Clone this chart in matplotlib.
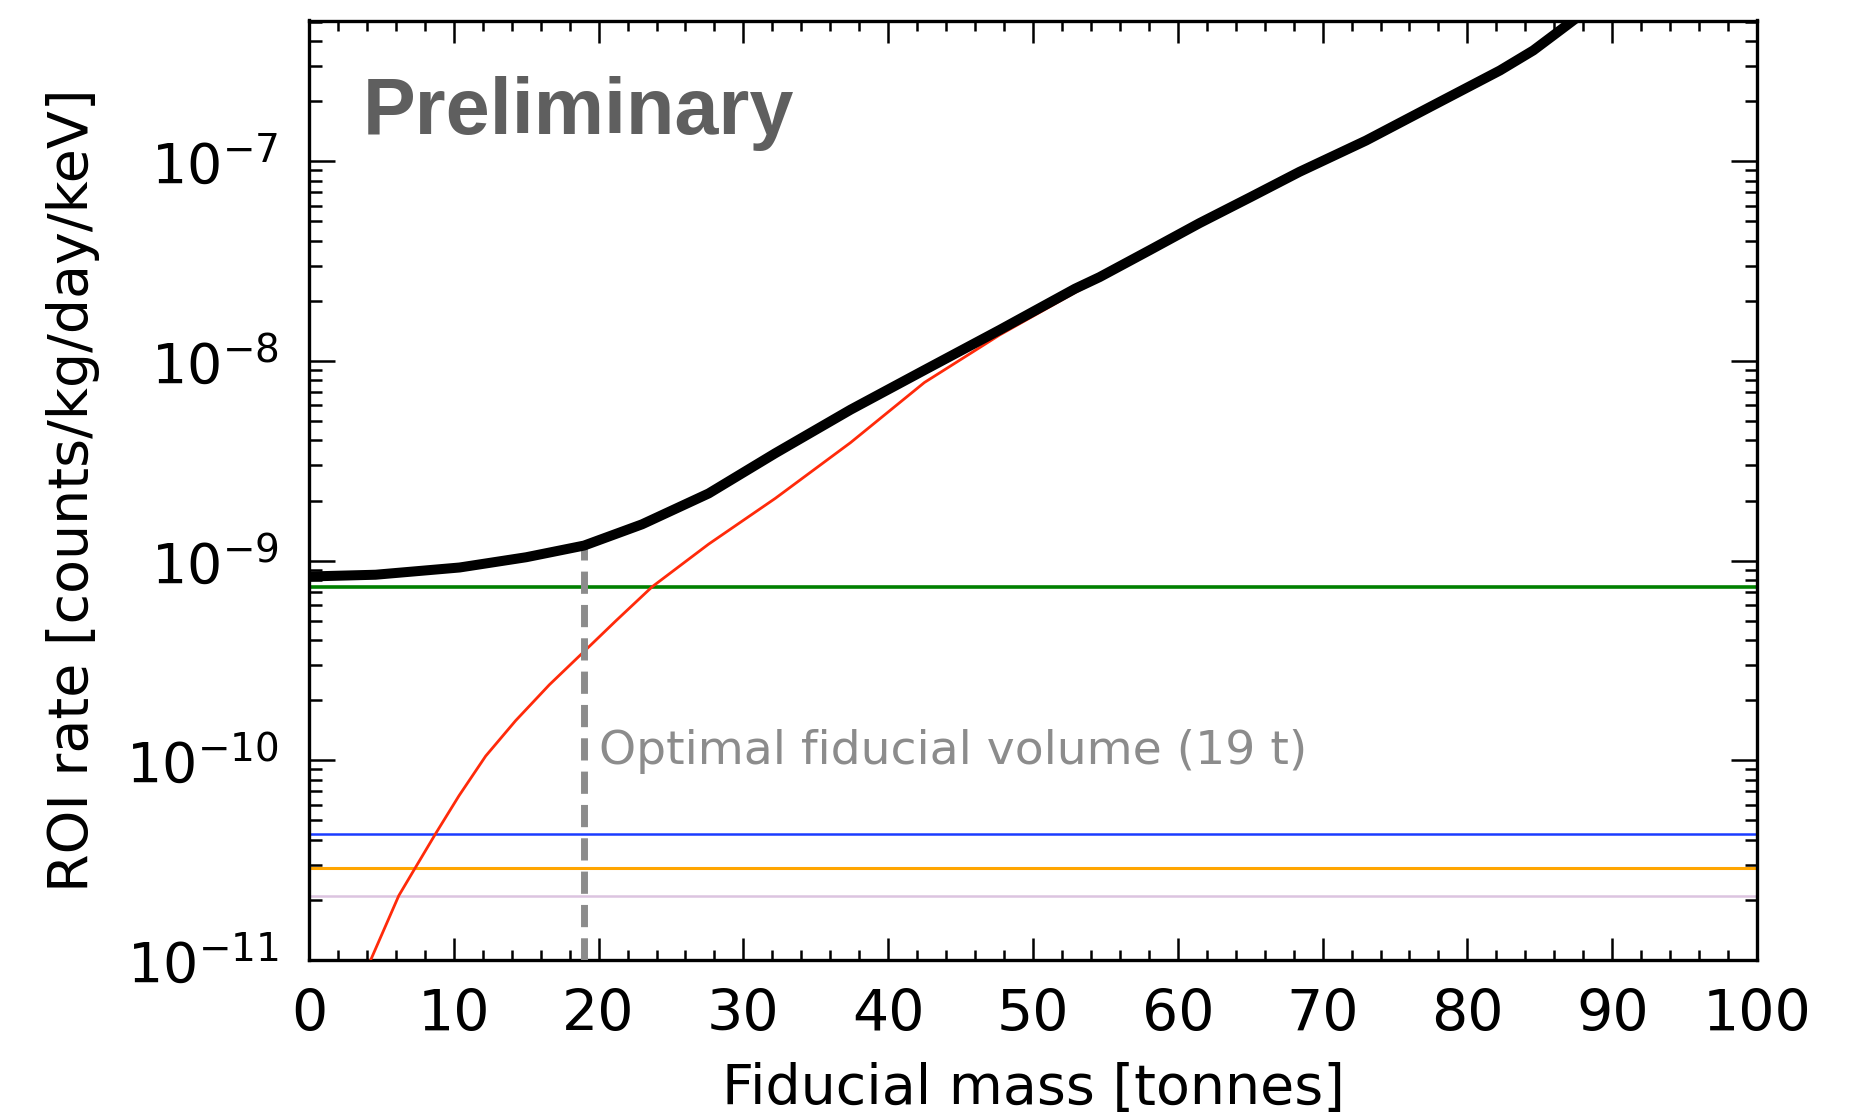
import matplotlib
matplotlib.use("Agg")
import matplotlib.pyplot as plt
from matplotlib.ticker import LogLocator, MultipleLocator, NullFormatter

# ---- data ----
total_mass = [0.0, 4.6, 10.4, 15.0, 19.0, 23.0, 27.6, 32.2, 37.4, 42.5, 47.7, 52.9,
              54.6, 58.1, 61.5, 65.0, 68.4, 73.0, 77.6, 82.25, 84.55, 86.85, 88.5]
total_rate = [8.33e-10, 8.5e-10, 9.24e-10, 1.04e-9, 1.19e-9, 1.52e-9, 2.17e-9, 3.45e-9,
              5.7e-9, 9.0e-9, 1.43e-8, 2.3e-8, 2.63e-8, 3.6e-8, 4.9e-8, 6.6e-8,
              8.85e-8, 1.27e-7, 1.9e-7, 2.85e-7, 3.59e-7, 4.79e-7, 5.9e-7]

red_mass = [4.0, 4.26, 6.2, 7.37, 8.75, 10.36, 12.2, 14.27, 16.6, 19.0, 21.2, 23.7,
            27.6, 32.2, 37.4, 42.5, 47.7, 52.9, 58.1, 61.5, 65.0, 68.4, 73.0, 77.6,
            82.25, 84.55, 86.85, 88.5]
red_rate = [8.6e-12, 1.0e-11, 2.1e-11, 2.92e-11, 4.3e-11, 6.65e-11, 1.05e-10, 1.58e-10,
            2.39e-10, 3.51e-10, 5.0e-10, 7.4e-10, 1.21e-9, 2.05e-9, 3.9e-9, 7.8e-9,
            1.35e-8, 2.2e-8, 3.5e-8, 4.8e-8, 6.5e-8, 8.75e-8, 1.26e-7, 1.89e-7,
            2.84e-7, 3.58e-7, 4.78e-7, 5.9e-7]

flat_levels = [7.4e-10, 4.3e-11, 2.9e-11, 2.1e-11]
flat_colors = ["#008000", "#1a3cff", "#ffa500", "#dcc4e0"]
flat_widths = [2.6, 1.8, 2.2, 1.8]

optimal_mass = 19
optimal_rate = 1.25e-9
xticks = list(range(0, 101, 10))

# ---- figure ----
fig = plt.figure(figsize=(18.5, 11.15), dpi=100)
ax = fig.add_axes([309/1850, 1 - 960/1115, (1757-309)/1850, (960-20.5)/1115])

ax.set_yscale("log")
ax.set_xlim(0, 100)
ax.set_ylim(1e-11, 5.07e-7)

for lvl, c, w in zip(flat_levels, flat_colors, flat_widths):
    ax.axhline(lvl, color=c, lw=w, zorder=2)

ax.plot(red_mass, red_rate, color="#ff2a0a", lw=2.0, zorder=3,
        solid_joinstyle="round")
ax.vlines(optimal_mass, 1e-11, optimal_rate, color="#8c8c8c", lw=5,
          linestyles=[(0, (3.2, 1.6))], zorder=4)
ax.plot(total_mass, total_rate, color="black", lw=7.2, zorder=5,
        solid_capstyle="butt", solid_joinstyle="round")

ax.text(20.0, 9.6e-11, "Optimal fiducial volume (19 t)", color="#8c8c8c",
        fontsize=34, va="baseline", ha="left", family="DejaVu Sans")
ax.text((363-309)/1448, (960-134)/940, "Preliminary", transform=ax.transAxes,
        fontsize=57, fontweight="bold", color="#5f5f5f", family="Liberation Sans",
        va="baseline", ha="left")

ax.set_xticks(xticks)
ax.xaxis.set_minor_locator(MultipleLocator(2))
ax.yaxis.set_major_locator(LogLocator(base=10, numticks=20))
ax.yaxis.set_minor_locator(LogLocator(base=10, subs=range(2, 10), numticks=20))
ax.yaxis.set_minor_formatter(NullFormatter())

ax.tick_params(which="both", direction="in", top=True, right=True, width=1.8)
ax.tick_params(axis="x", which="major", labelsize=41, pad=20, length=16)
ax.tick_params(axis="x", which="minor", length=7)
ax.tick_params(axis="y", which="major", labelsize=40, pad=22, length=19)
ax.tick_params(axis="y", which="minor", length=9)

for s in ax.spines.values():
    s.set_linewidth(2.4)

ax.set_xlabel("Fiducial mass [tonnes]", fontsize=40, labelpad=14)
ax.set_ylabel("ROI rate [counts/kg/day/keV]", fontsize=40)
ax.yaxis.set_label_coords(-0.144, 0.5)

fig.savefig("out.png", dpi=100)
